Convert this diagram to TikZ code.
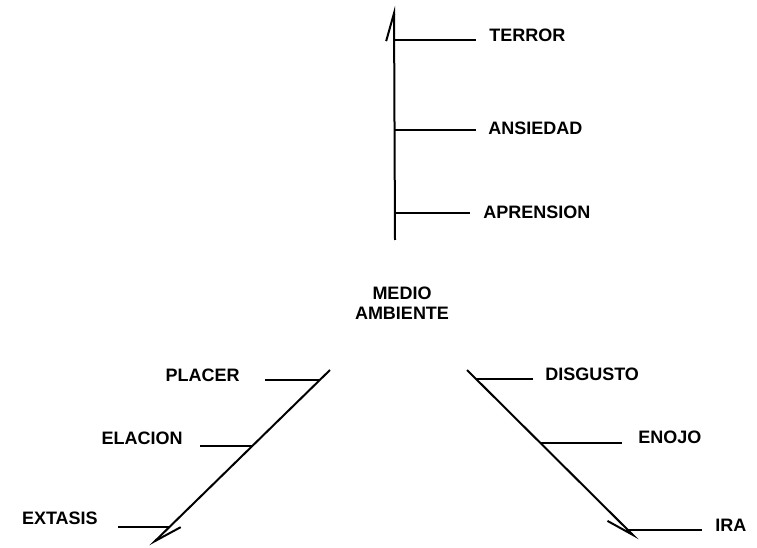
\documentclass[tikz,border=0pt]{standalone}
\usepackage{fontspec}
\setmainfont{Liberation Sans}
\usetikzlibrary{positioning, calc, arrows.meta}

\begin{document}
\begin{tikzpicture}[x=1pt,y=-1pt,semithick,
  >={Straight Barb[harpoon,length=28pt,width=16pt]},
  lbl/.style={inner sep=0pt, font=\fontsize{18}{20}\selectfont\bfseries},
  axis/.style={line width=2pt},
  tick/.style={line width=1.3pt}]
  \useasboundingbox (0,0) rectangle (757,548);

  % fear axis (up)
  \coordinate (vbot) at (395,240);
  \coordinate (vtop) at (394,6);
  \coordinate (v1) at (395,40);
  \coordinate (v2) at (395,130);
  \coordinate (v3) at (395,213);
  \node[lbl, anchor=west] (terror)    at (489,35)  {TERROR};
  \node[lbl, anchor=west] (ansiedad)  at (488,128) {ANSIEDAD};
  \node[lbl, anchor=west] (aprension) at (483,212) {APRENSION};

  \node[lbl, align=center] (medio) at (402,303) {MEDIO\\AMBIENTE};

  % joy axis (down left)
  \coordinate (ltop) at (330,370);
  \coordinate (lbot) at (150,546);
  \coordinate (l1) at (320,380);
  \coordinate (l2) at (252,446);
  \coordinate (l3) at (170,527);
  \node[lbl, anchor=east] (placer)  at (240,375) {PLACER};
  \node[lbl, anchor=east] (elacion) at (183,438) {ELACION};
  \node[lbl, anchor=east] (extasis) at (98,518)  {EXTASIS};

  % anger axis (down right)
  \coordinate (rtop) at (467,370);
  \coordinate (rbot) at (638,540);
  \coordinate (r1) at (476,379);
  \coordinate (r2) at (540,443);
  \coordinate (r3) at (626,530);
  \node[lbl, anchor=west] (disgusto) at (545,374) {DISGUSTO};
  \node[lbl, anchor=west] (enojo)    at (638,437) {ENOJO};
  \node[lbl, anchor=west] (ira)      at (715,525) {IRA};

  \draw[axis,->] (vbot) -- (vtop);
  \draw[axis,->] (ltop) -- (lbot);
  \draw[axis,>={Straight Barb[harpoon,swap,length=28pt,width=16pt]},->] (rtop) -- (rbot);

  \path[tick]
    (v1) edge ([xshift=-13pt]v1 -| terror.west)
    (v2) edge ([xshift=-12pt]v2 -| ansiedad.west)
    (v3) edge ([xshift=-13pt]v3 -| aprension.west)
    (l1) edge ([xshift=25pt]l1 -| placer.east)
    (l2) edge ([xshift=17pt]l2 -| elacion.east)
    (l3) edge ([xshift=20pt]l3 -| extasis.east)
    (r1) edge ([xshift=-12pt]r1 -| disgusto.west)
    (r2) edge ([xshift=-16pt]r2 -| enojo.west)
    (r3) edge ([xshift=-13pt]r3 -| ira.west);

\end{tikzpicture}
\end{document}
